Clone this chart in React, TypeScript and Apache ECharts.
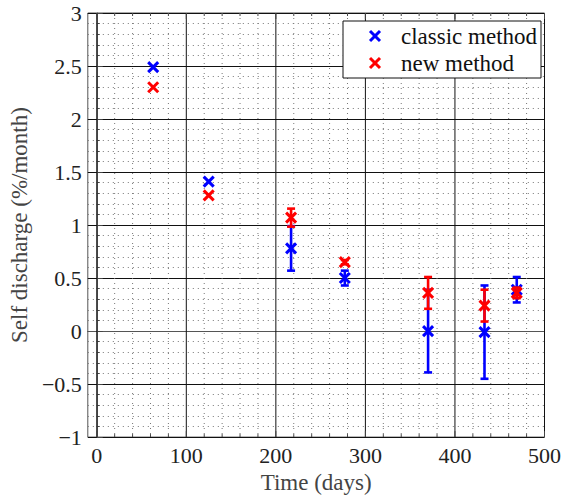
import React, { useEffect, useRef } from "react";
import * as echarts from "echarts";

const days = [63, 125, 217, 277, 370, 433, 469];
const classicValues = [2.49, 1.41, 0.78, 0.5, 0.0, -0.01, 0.39];
const classicErrors = [0, 0, 0.21, 0.07, 0.39, 0.44, 0.12];
const newValues = [2.3, 1.28, 1.07, 0.65, 0.36, 0.24, 0.36];
const newErrors = [0, 0, 0.085, 0.02, 0.15, 0.15, 0.05];
const xTicks = [0, 100, 200, 300, 400, 500];
const legendNames = ["classic method", "new method"];

const BLUE = "#0000ff";
const RED = "#ff0000";
const FONT = "Liberation Serif";

function errorRender(color: string) {
  return (params: any, api: any) => {
    const x = api.value(0);
    const y = api.value(1);
    const e = api.value(2);
    const p = api.coord([x, y]);
    const children: any[] = [];
    const ls = { stroke: color, lineWidth: 2.6 };
    if (e > 0) {
      const t = api.coord([x, y + e]);
      const b = api.coord([x, y - e]);
      children.push({ type: "line", shape: { x1: t[0], y1: t[1], x2: b[0], y2: b[1] }, style: ls });
      children.push({ type: "line", shape: { x1: t[0] - 4, y1: t[1], x2: t[0] + 4, y2: t[1] }, style: ls });
      children.push({ type: "line", shape: { x1: b[0] - 4, y1: b[1], x2: b[0] + 4, y2: b[1] }, style: ls });
    }
    const s = 5;
    const ms = { stroke: color, lineWidth: 3 };
    children.push({ type: "line", shape: { x1: p[0] - s, y1: p[1] - s, x2: p[0] + s, y2: p[1] + s }, style: ms });
    children.push({ type: "line", shape: { x1: p[0] - s, y1: p[1] + s, x2: p[0] + s, y2: p[1] - s }, style: ms });
    return { type: "group", children };
  };
}

function gridRender(params: any, api: any) {
  const children: any[] = [];
  const yTop = 3;
  const yBot = -1;
  for (let v = 0; v <= 500; v += 20) {
    const a = api.coord([v, yTop]);
    const b = api.coord([v, yBot]);
    const major = v % 100 === 0;
    children.push({
      type: "line",
      shape: { x1: a[0], y1: a[1], x2: b[0], y2: b[1] },
      style: major
        ? { stroke: "#111", lineWidth: 1 }
        : { stroke: "#777", lineWidth: 1, lineDash: [1, 4] },
    });
    const tl = major ? 6 : 3;
    children.push({ type: "line", shape: { x1: b[0], y1: b[1], x2: b[0], y2: b[1] - tl }, style: { stroke: "#444", lineWidth: 1 } });
    children.push({ type: "line", shape: { x1: a[0], y1: a[1], x2: a[0], y2: a[1] + tl }, style: { stroke: "#444", lineWidth: 1 } });
  }
  return { type: "group", children };
}

const fmt = (v: number) => String(v).replace("-", "\u2212");

export default function App() {
  const ref = useRef<HTMLDivElement>(null);
  useEffect(() => {
    const chart = echarts.init(ref.current!, null, { renderer: "svg" });
    const classicData = days.map((d, i) => [d, classicValues[i], classicErrors[i]]);
    const newData = days.map((d, i) => [d, newValues[i], newErrors[i]]);
    const lx = 343, ly = 21;
    const graphics: any[] = [
      {
        type: "rect",
        shape: { x: lx, y: ly, width: 198, height: 57 },
        style: { fill: "#fff", stroke: "#111", lineWidth: 1 },
        z: 100,
      },
    ];
    [BLUE, RED].forEach((c, i) => {
      const cy = ly + 15 + i * 27;
      const cx = lx + 32;
      graphics.push({ type: "line", z: 101, shape: { x1: cx - 5, y1: cy - 5, x2: cx + 5, y2: cy + 5 }, style: { stroke: c, lineWidth: 3 } });
      graphics.push({ type: "line", z: 101, shape: { x1: cx - 5, y1: cy + 5, x2: cx + 5, y2: cy - 5 }, style: { stroke: c, lineWidth: 3 } });
      graphics.push({
        type: "text",
        z: 101,
        x: lx + 58,
        y: cy,
        style: { text: legendNames[i], font: `23px ${FONT}`, fill: "#111", verticalAlign: "middle", align: "left" },
      });
    });
    chart.setOption({
      animation: false,
      textStyle: { fontFamily: FONT },
      grid: { left: 87, top: 13, right: 15, bottom: 56, show: true, borderColor: "#555", borderWidth: 1 },
      xAxis: {
        type: "value",
        min: -10,
        max: 500,
        name: "Time (days)",
        nameLocation: "middle",
        nameGap: 31,
        nameTextStyle: { fontFamily: FONT, fontSize: 23, color: "#444" },
        axisLine: { show: true, lineStyle: { color: "#555" } },
        axisTick: { show: false },
        splitLine: { show: false },
        axisLabel: { customValues: xTicks, fontFamily: FONT, fontSize: 22, color: "#222", margin: 7, formatter: fmt },
      },
      yAxis: {
        type: "value",
        min: -1,
        max: 3,
        interval: 0.5,
        name: "Self discharge (%/month)",
        nameLocation: "middle",
        nameGap: 50,
        nameTextStyle: { fontFamily: FONT, fontSize: 23, color: "#444" },
        axisLine: { show: true, lineStyle: { color: "#555" } },
        axisTick: { show: true, inside: true, length: 6, lineStyle: { color: "#444" } },
        minorTick: { show: true, splitNumber: 5, length: 3, lineStyle: { color: "#444" } },
        splitLine: { show: true, lineStyle: { color: "#111", width: 1 } },
        minorSplitLine: { show: true, lineStyle: { color: "#777", width: 1, type: [1, 4] } },
        axisLabel: { fontFamily: FONT, fontSize: 22, color: "#222", margin: 6, formatter: fmt },
      },
      series: [
        { type: "custom", name: "grid", data: [[0, 0]], renderItem: gridRender, silent: true, z: 1, clip: true },
        { type: "custom", name: legendNames[0], data: classicData, renderItem: errorRender(BLUE), z: 3, clip: true },
        { type: "custom", name: legendNames[1], data: newData, renderItem: errorRender(RED), z: 4, clip: true },
      ],
      graphic: graphics,
    });
    return () => chart.dispose();
  }, []);
  return <div ref={ref} style={{ width: 564, height: 499, position: "absolute", left: 0, top: 0 }} />;
}
